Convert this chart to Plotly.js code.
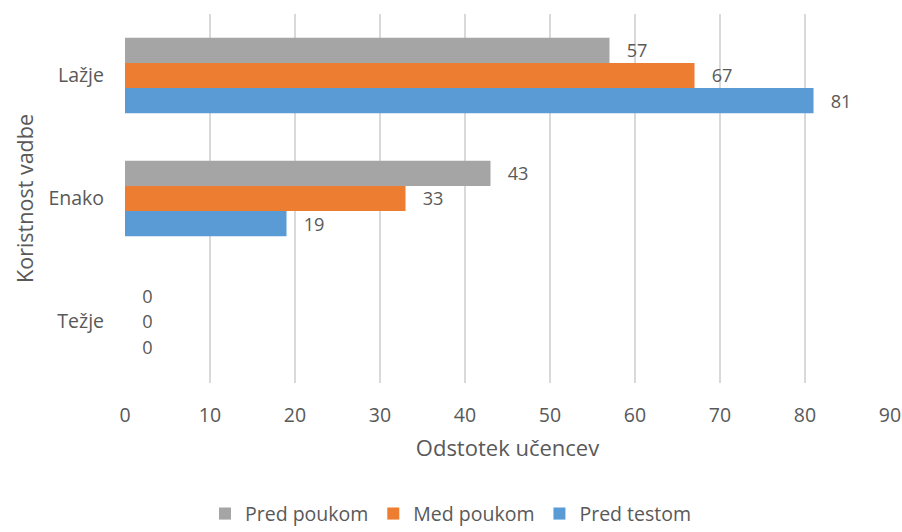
<!DOCTYPE html>
<html>
<head>
<meta charset="utf-8">
<script src="https://cdn.plot.ly/plotly-3.0.1.min.js"></script>
<style>html,body{margin:0;padding:0;background:#fff;}#chart{width:902px;height:532px;}</style>
</head>
<body>
<div id="chart"></div>
<script>
const categories = ["Težje", "Enako", "Lažje"];
const predTestom = [0, 19, 81];
const medPoukom = [0, 33, 67];
const predPoukom = [0, 43, 57];
const seriesNames = ["Pred testom", "Med poukom", "Pred poukom"];
const xTicks = [0, 10, 20, 30, 40, 50, 60, 70, 80, 90];

const colors = ["#5B9BD5", "#ED7D31", "#A5A5A5"];
const values = [predTestom, medPoukom, predPoukom];
const fontFam = "'Open Sans', 'Noto Sans', sans-serif";
const txt = "#595959";

const traces = values.map((v, i) => ({
  type: "bar",
  orientation: "h",
  name: seriesNames[i],
  y: categories,
  x: v,
  marker: {color: colors[i]},
  texttemplate: "   %{x}",
  textposition: "outside",
  cliponaxis: false,
  textfont: {family: fontFam, size: 19.5, color: txt},
  hoverinfo: "skip"
}));

const layout = {
  width: 902, height: 532,
  margin: {l: 124.5, r: 12, t: 14, b: 149},
  paper_bgcolor: "#fff", plot_bgcolor: "#fff",
  barmode: "group",
  bargap: 0.386,
  bargroupgap: 0,
  font: {family: fontFam, size: 19.5, color: txt},
  showlegend: true,
  xaxis: {
    range: [0, 90],
    tickvals: xTicks,
    ticktext: xTicks.map(String),
    showgrid: true, gridcolor: "#D9D9D9", gridwidth: 1.3,
    zeroline: false, showline: false,
    ticks: "", ticklabelstandoff: 18,
    tickfont: {family: fontFam, size: 19.5, color: txt},
    title: {text: "Odstotek učencev", font: {family: fontFam, size: 22, color: txt}, standoff: 14},
    fixedrange: true, automargin: false
  },
  yaxis: {
    categoryorder: "array", categoryarray: categories,
    showgrid: false, zeroline: false, showline: false,
    ticks: "", ticklabelstandoff: 20,
    tickfont: {family: fontFam, size: 19.5, color: txt},
    title: {text: "Koristnost vadbe", font: {family: fontFam, size: 21.5, color: txt}, standoff: 8},
    fixedrange: true, automargin: false
  },
  legend: {
    orientation: "h", traceorder: "reversed",
    x: 0.5, xanchor: "center", xref: "container",
    y: 0.034, yanchor: "middle", yref: "container",
    font: {family: fontFam, size: 19.5, color: txt},
    itemwidth: 30
  }
};

Plotly.newPlot("chart", traces, layout, {displayModeBar: false, staticPlot: true});
</script>
</body>
</html>
